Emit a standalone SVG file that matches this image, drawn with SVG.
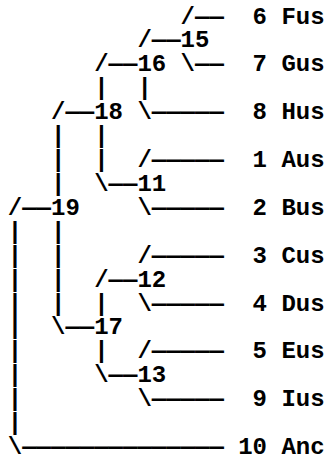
<svg xmlns="http://www.w3.org/2000/svg" width="326" height="459" viewBox="0 0 326 459">
  <style>
    text { font-family: "Liberation Mono", "Courier New", monospace; font-size: 24px; font-weight: bold; fill: #000; }
  </style>
  <rect width="326" height="459" fill="#fff"/>

  <!-- Character grid: column c starts at x = 7.8 + 14.4*c, row r baseline at y = 23.5 + 23.92*r -->
  <g transform="translate(0,-1)">
  <g id="connectors">
    <!-- row 0 -->
    <text x="180.6" y="24.5">/——</text>
    <!-- row 1 -->
    <text x="137.4" y="48.42">/——</text>
    <!-- row 2 -->
    <text x="94.2" y="72.34">/——</text>
    <text x="180.6" y="72.34">\——</text>
    <!-- row 3 -->
    <text x="94.2" y="96.26">|</text>
    <text x="137.4" y="96.26">|</text>
    <!-- row 4 -->
    <text x="51" y="120.18">/——</text>
    <text x="137.4" y="120.18">\—————</text>
    <!-- row 5 -->
    <text x="51" y="144.1">|</text>
    <text x="94.2" y="144.1">|</text>
    <!-- row 6 -->
    <text x="51" y="168.02">|</text>
    <text x="94.2" y="168.02">|</text>
    <text x="137.4" y="168.02">/—————</text>
    <!-- row 7 -->
    <text x="51" y="191.94">|</text>
    <text x="94.2" y="191.94">\——</text>
    <!-- row 8 -->
    <text x="7.8" y="215.86">/——</text>
    <text x="137.4" y="215.86">\—————</text>
    <!-- row 9 -->
    <text x="7.8" y="239.78">|</text>
    <text x="51" y="239.78">|</text>
    <!-- row 10 -->
    <text x="7.8" y="263.7">|</text>
    <text x="51" y="263.7">|</text>
    <text x="137.4" y="263.7">/—————</text>
    <!-- row 11 -->
    <text x="7.8" y="287.62">|</text>
    <text x="51" y="287.62">|</text>
    <text x="94.2" y="287.62">/——</text>
    <!-- row 12 -->
    <text x="7.8" y="311.54">|</text>
    <text x="51" y="311.54">|</text>
    <text x="94.2" y="311.54">|</text>
    <text x="137.4" y="311.54">\—————</text>
    <!-- row 13 -->
    <text x="7.8" y="335.46">|</text>
    <text x="51" y="335.46">\——</text>
    <!-- row 14 -->
    <text x="7.8" y="359.38">|</text>
    <text x="94.2" y="359.38">|</text>
    <text x="137.4" y="359.38">/—————</text>
    <!-- row 15 -->
    <text x="7.8" y="383.3">|</text>
    <text x="94.2" y="383.3">\——</text>
    <!-- row 16 -->
    <text x="7.8" y="407.22">|</text>
    <text x="137.4" y="407.22">\—————</text>
    <!-- row 17 -->
    <text x="7.8" y="431.14">|</text>
    <!-- row 18 -->
    <text x="7.8" y="455.06">\——————————————</text>
  </g>

  <!-- internal nodes -->
  <g id="node-19"><text x="51" y="215.86">19</text></g>
  <g id="node-18"><text x="94.2" y="120.18">18</text></g>
  <g id="node-17"><text x="94.2" y="335.46">17</text></g>
  <g id="node-16"><text x="137.4" y="72.34">16</text></g>
  <g id="node-15"><text x="180.6" y="48.42">15</text></g>
  <g id="node-13"><text x="137.4" y="383.3">13</text></g>
  <g id="node-12"><text x="137.4" y="287.62">12</text></g>
  <g id="node-11"><text x="137.4" y="191.94">11</text></g>

  <!-- leaves -->
  <g id="leaf-6"><text x="252.6" y="24.5">6 Fus</text></g>
  <g id="leaf-7"><text x="252.6" y="72.34">7 Gus</text></g>
  <g id="leaf-8"><text x="252.6" y="120.18">8 Hus</text></g>
  <g id="leaf-1"><text x="252.6" y="168.02">1 Aus</text></g>
  <g id="leaf-2"><text x="252.6" y="215.86">2 Bus</text></g>
  <g id="leaf-3"><text x="252.6" y="263.7">3 Cus</text></g>
  <g id="leaf-4"><text x="252.6" y="311.54">4 Dus</text></g>
  <g id="leaf-5"><text x="252.6" y="359.38">5 Eus</text></g>
  <g id="leaf-9"><text x="252.6" y="407.22">9 Ius</text></g>
  <g id="leaf-10"><text x="238.2" y="455.06">10 Anc</text></g>
  </g>
</svg>
